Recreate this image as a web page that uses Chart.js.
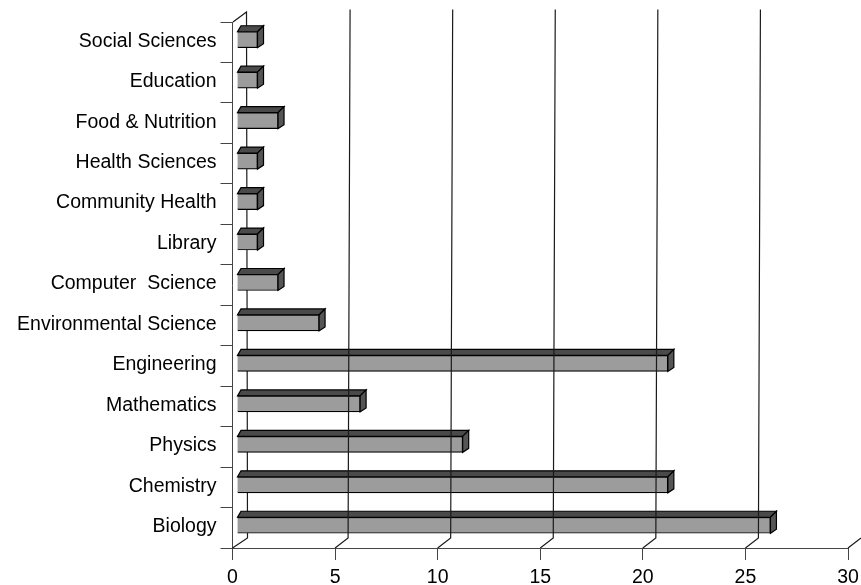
<!DOCTYPE html>
<html><head><meta charset="utf-8">
<script src="https://cdn.jsdelivr.net/npm/chart.js@4"></script>
<style>html,body{margin:0;padding:0;background:#fff}canvas{display:block}</style>
</head><body>
<canvas id="c" width="861" height="585"></canvas>
<script>
const categories = ["Social Sciences","Education","Food & Nutrition","Health Sciences","Community Health","Library","Computer  Science","Environmental Science","Engineering","Mathematics","Physics","Chemistry","Biology"];
const values = [1,1,2,1,1,1,2,4,21,6,11,21,26];
const xTickValues = [0,5,10,15,20,25,30];

const FRONT='#9c9c9c', TOP='#4a4a4a', SIDE='#555555', LINE='#1a1a1a';
const BAR_DX=4.5, BAR_DY=-2.5, DEPTH_R=6, DEPTH_L=3.5, DEPTH_Y=6, SIDE_DY=4;
const WALL_DX=13, WALL_DY=10, WALL_TOP=9.5, WALL_TILT=2;

function wallLine(ctx,chart,v){
  const sx=chart.scales.x, area=chart.chartArea, x=sx.getPixelForValue(v);
  const dx=v===0?15:WALL_DX;
  ctx.save();
  ctx.strokeStyle=LINE; ctx.lineWidth=1.2;
  ctx.beginPath();
  ctx.moveTo(x,area.bottom);
  ctx.lineTo(x+dx,area.bottom-WALL_DY);
  if(v!==xTickValues[xTickValues.length-1]){
    ctx.lineTo(x+dx+(v===0?-1:WALL_TILT),v===0?area.top-WALL_DY:WALL_TOP);
  }
  if(v===0){ctx.lineTo(x+0.5,area.top);}
  ctx.stroke();
  ctx.restore();
}
const depthPlugin={
  id:'depth',
  beforeDatasetsDraw(chart){ wallLine(chart.ctx,chart,0); },
  beforeDatasetDraw(chart,args){
    const ctx=chart.ctx;
    ctx.save();
    ctx.translate(BAR_DX,BAR_DY);
    ctx.lineWidth=1.2; ctx.strokeStyle='#000';
    args.meta.data.forEach(el=>{
      const x0=el.base,x1=el.x,y0=el.y-el.height/2,y1=el.y+el.height/2;
      ctx.fillStyle=TOP;
      ctx.beginPath();
      ctx.moveTo(x0,y0);ctx.lineTo(x1,y0);ctx.lineTo(x1+DEPTH_R,y0-DEPTH_Y);ctx.lineTo(x0+DEPTH_L,y0-DEPTH_Y);ctx.closePath();
      ctx.fill();ctx.stroke();
      ctx.fillStyle=SIDE;
      ctx.beginPath();
      ctx.moveTo(x1,y0);ctx.lineTo(x1+DEPTH_R,y0-DEPTH_Y);ctx.lineTo(x1+DEPTH_R,y1-SIDE_DY);ctx.lineTo(x1,y1);ctx.closePath();
      ctx.fill();ctx.stroke();
    });
  },
  afterDatasetDraw(chart){ chart.ctx.restore(); },
  afterDatasetsDraw(chart){
    xTickValues.filter(v=>v!==0).forEach(v=>wallLine(chart.ctx,chart,v));
  }
};
new Chart(document.getElementById('c'),{
  type:'bar',
  data:{labels:categories,datasets:[{data:values,backgroundColor:FRONT,borderColor:'#000',borderWidth:1.2,barThickness:16}]},
  plugins:[depthPlugin],
  options:{
    indexAxis:'y',responsive:false,animation:false,devicePixelRatio:1,
    layout:{padding:{top:22,right:13,left:0,bottom:0}},
    plugins:{legend:{display:false},tooltip:{enabled:false},title:{display:false}},
    scales:{
      x:{type:'linear',min:0,max:30,
        afterBuildTicks(s){s.ticks=xTickValues.map(v=>({value:v}));},
        afterFit(s){s.height=37;s.paddingLeft=0;s.paddingRight=0;},
        grid:{drawOnChartArea:false,drawTicks:true,tickLength:12,color:'#444'},
        border:{color:'#444',width:1},
        ticks:{color:'#000',font:{family:'"Liberation Sans"',size:19.5},padding:6,maxRotation:0,autoSkip:false}},
      y:{type:'category',
        afterFit(s){s.width=232.5;s.paddingTop=0;s.paddingBottom=0;},
        grid:{drawOnChartArea:false,drawTicks:true,tickLength:12,color:'#444',offset:true},
        border:{color:'#444',width:1},
        ticks:{color:'#000',font:{family:'"Liberation Sans"',size:19.5},padding:4,labelOffset:-1,autoSkip:false}}
    }
  }
});
</script>
</body></html>
